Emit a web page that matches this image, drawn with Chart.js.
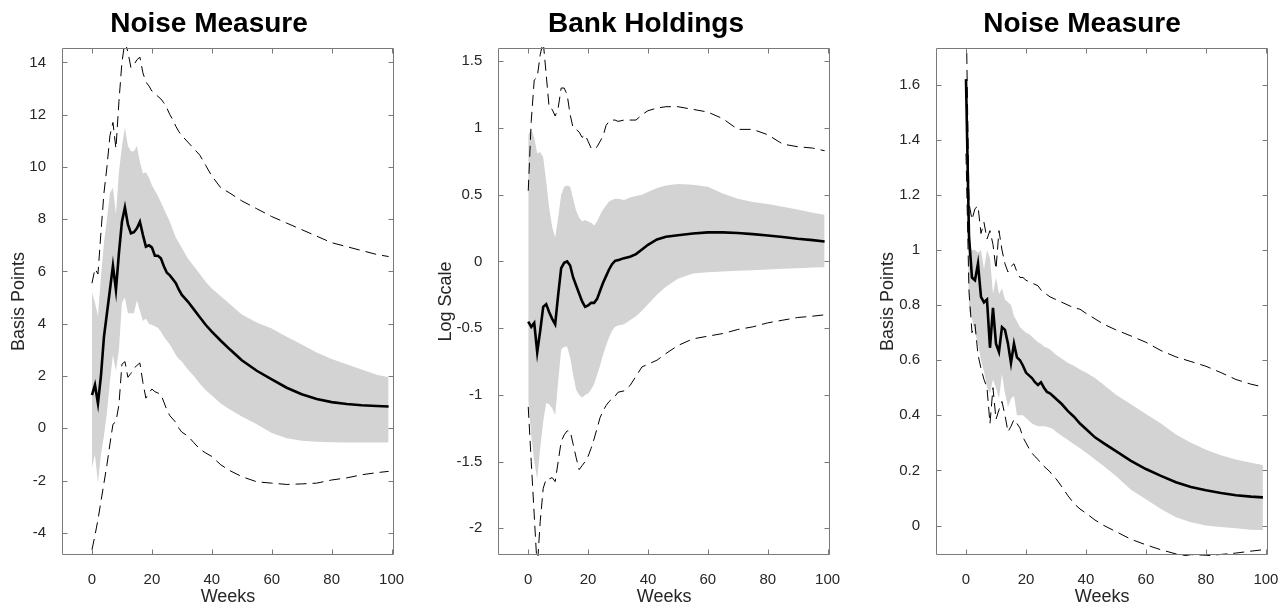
<!DOCTYPE html>
<html lang="en">
<head>
  <meta charset="UTF-8">
  <title>Noise Measure / Bank Holdings</title>
  <script src="https://cdn.jsdelivr.net/npm/chart.js"></script>
  <style>
    body {
      margin: 0;
      background: #fff;
      overflow: hidden;
    }

    .panel {
      position: absolute;
      top: 0;
    }
  </style>
</head>
<body>
  <canvas id="c1" class="panel" width="418" height="611" style="left:0px"></canvas>
  <canvas id="c2" class="panel" width="438" height="611" style="left:427px"></canvas>
  <canvas id="c3" class="panel" width="426" height="611" style="left:869px"></canvas>

  <script>
    // x positions (weeks) shared by every series
    const weeks = [0, 1, 2, 3, 4, 5, 6, 7, 8, 9, 10, 11, 12, 13, 14, 15, 16, 17, 18, 19, 20,
      21, 22, 23, 24, 25, 26, 27, 28, 29, 30, 32, 34, 36, 38, 40,
      43, 46, 50, 55, 60, 65, 70, 75, 80, 85, 90, 95, 99];
    const xTicks = [0, 20, 40, 60, 80, 100];

    // panel 1 - Noise Measure (basis points)
    const noiseMedian = [1.27, 1.66, 0.95, 2.0, 3.5, 4.4, 5.3, 6.22, 5.29, 6.7, 7.9, 8.45, 7.8, 7.46, 7.5, 7.65, 7.9, 7.4, 6.95, 7.0, 6.92,
      6.6, 6.6, 6.5, 6.2, 5.95, 5.85, 5.7, 5.55, 5.3, 5.1, 4.85, 4.55, 4.25, 3.95, 3.7,
      3.35, 3.02, 2.6, 2.2, 1.87, 1.55, 1.3, 1.12, 1.0, 0.93, 0.88, 0.85, 0.83];
    const noiseBandHi = [5.2, 4.8, 4.3, 5.8, 7.1, 8.0, 9.0, 9.2, 8.2, 9.8, 10.8, 11.5, 10.8, 10.6, 10.6, 10.8, 10.2, 9.75, 9.8, 9.6, 9.3,
      9.1, 8.9, 8.65, 8.4, 8.15, 7.9, 7.6, 7.3, 7.1, 6.9, 6.5, 6.2, 5.9, 5.6, 5.35,
      5.05, 4.75, 4.35, 4.05, 3.82, 3.5, 3.2, 2.9, 2.65, 2.45, 2.25, 2.05, 1.95];
    const noiseBandLo = [-1.5, -1.0, -2.1, -1.0, -0.3, 0.6, 1.8, 2.8, 2.2, 3.0, 4.8, 5.0, 4.4, 4.4, 4.4, 4.9, 4.5, 4.1, 4.2, 4.0, 3.95,
      3.9, 3.85, 3.7, 3.5, 3.35, 3.2, 3.0, 2.8, 2.65, 2.55, 2.25, 2.0, 1.7, 1.45, 1.25,
      0.95, 0.72, 0.45, 0.15, -0.18, -0.38, -0.48, -0.52, -0.54, -0.55, -0.55, -0.55, -0.55];
    const noiseOuterHi = [5.55, 6.1, 5.9, 7.5, 9.0, 10.0, 11.2, 11.7, 10.7, 12.5, 14.0, 14.8, 14.4, 13.8, 13.9, 14.1, 14.2, 13.6, 13.25, 13.1, 12.9,
      12.8, 12.7, 12.6, 12.45, 12.25, 12.0, 11.8, 11.55, 11.35, 11.2, 10.95, 10.7, 10.45, 10.05, 9.65,
      9.2, 9.0, 8.7, 8.4, 8.1, 7.85, 7.6, 7.35, 7.1, 6.95, 6.8, 6.65, 6.57];
    const noiseOuterLo = [-4.65, -4.1, -3.5, -2.8, -2.1, -1.4, -0.6, 0.15, 0.25, 0.9, 2.45, 2.55, 1.95, 2.1, 2.3, 2.4, 2.5, 1.75, 1.15, 1.35, 1.5,
      1.4, 1.35, 1.3, 1.0, 0.7, 0.48, 0.35, 0.22, 0.0, -0.15, -0.3, -0.55, -0.8, -0.95, -1.08,
      -1.4, -1.62, -1.85, -2.05, -2.1, -2.15, -2.13, -2.1, -1.98, -1.9, -1.78, -1.7, -1.65];
    const noiseYTicks = [-4, -2, 0, 2, 4, 6, 8, 10, 12, 14];

    // panel 2 - Bank Holdings (log scale)
    const bankMedian = [-0.45, -0.49, -0.46, -0.68, -0.52, -0.34, -0.32, -0.38, -0.43, -0.47, -0.25, -0.05, -0.01, 0.0, -0.03, -0.12, -0.18, -0.24, -0.3, -0.34, -0.33,
      -0.31, -0.31, -0.28, -0.22, -0.16, -0.11, -0.06, -0.02, 0.005, 0.01, 0.025, 0.035, 0.055, 0.09, 0.125,
      0.165, 0.185, 0.197, 0.21, 0.218, 0.218, 0.213, 0.205, 0.195, 0.183, 0.17, 0.16, 0.15];
    const bankBandHi = [0.95, 0.99, 0.93, 0.81, 0.82, 0.78, 0.6, 0.4, 0.26, 0.18, 0.33, 0.5, 0.56, 0.57, 0.56, 0.47, 0.38, 0.33, 0.3, 0.31, 0.3,
      0.29, 0.27, 0.3, 0.35, 0.39, 0.42, 0.45, 0.46, 0.47, 0.47, 0.46, 0.48, 0.49, 0.5, 0.52,
      0.55, 0.57, 0.58, 0.575, 0.56, 0.51, 0.47, 0.445, 0.43, 0.41, 0.39, 0.365, 0.35];
    const bankBandLo = [-1.04, -1.3, -1.5, -1.63, -1.4, -1.2, -1.06, -1.07, -1.1, -1.15, -0.9, -0.66, -0.64, -0.64, -0.72, -0.85, -0.96, -1.0, -1.02, -1.0, -0.99,
      -0.96, -0.92, -0.85, -0.78, -0.7, -0.63, -0.57, -0.52, -0.49, -0.48, -0.47, -0.44, -0.41, -0.37, -0.32,
      -0.25, -0.19, -0.13, -0.09, -0.08, -0.075, -0.07, -0.065, -0.06, -0.055, -0.05, -0.045, -0.043];
    const bankOuterHi = [0.53, 1.05, 1.36, 1.38, 1.55, 1.65, 1.4, 1.15, 1.14, 1.09, 1.15, 1.3, 1.3, 1.25, 1.1, 1.0, 0.99, 0.97, 0.93, 0.95, 0.9,
      0.85, 0.84, 0.86, 0.9, 0.94, 1.02, 1.05, 1.06, 1.06, 1.05, 1.06, 1.06, 1.06, 1.1, 1.13,
      1.15, 1.16, 1.16, 1.14, 1.12, 1.07, 0.99, 0.99, 0.95, 0.88, 0.86, 0.85, 0.83];
    const bankOuterLo = [-1.09, -1.5, -1.9, -2.3, -1.95, -1.7, -1.63, -1.63, -1.62, -1.65, -1.5, -1.35, -1.3, -1.27, -1.27, -1.37, -1.47, -1.56, -1.53, -1.5, -1.46,
      -1.4, -1.33, -1.25, -1.17, -1.12, -1.08, -1.05, -1.03, -1.01, -0.98, -0.97, -0.93, -0.86, -0.79, -0.77,
      -0.74, -0.69, -0.63, -0.58, -0.56, -0.54, -0.51, -0.49, -0.46, -0.44, -0.42, -0.41, -0.4];
    const bankYTicks = [-2, -1.5, -1, -0.5, 0, 0.5, 1, 1.5];

    // panel 3 - Noise Measure (basis points)
    const noise2Median = [1.62, 1.05, 0.9, 0.89, 0.95, 0.83, 0.81, 0.82, 0.645, 0.79, 0.66, 0.63, 0.72, 0.71, 0.66, 0.59, 0.66, 0.61, 0.6, 0.58, 0.555,
      0.545, 0.535, 0.52, 0.51, 0.52, 0.5, 0.485, 0.48, 0.47, 0.46, 0.44, 0.415, 0.395, 0.37, 0.35,
      0.32, 0.298, 0.27, 0.235, 0.205, 0.18, 0.157, 0.14, 0.128, 0.118, 0.11, 0.105, 0.102];
    const noise2BandHi = [1.65, 1.02, 1.0, 1.0, 0.99, 1.0, 0.93, 1.0, 0.97, 0.84, 0.9, 0.84, 0.86, 0.82, 0.81, 0.8, 0.76, 0.74, 0.72, 0.71, 0.7,
      0.695, 0.685, 0.675, 0.665, 0.66, 0.65, 0.645, 0.64, 0.63, 0.62, 0.605, 0.59, 0.58, 0.566, 0.555,
      0.535, 0.51, 0.475, 0.44, 0.405, 0.37, 0.33, 0.3, 0.275, 0.255, 0.24, 0.228, 0.22];
    const noise2BandLo = [1.55, 0.78, 0.75, 0.7, 0.66, 0.6, 0.56, 0.5, 0.48, 0.53, 0.5, 0.46, 0.55, 0.48, 0.43, 0.46, 0.47, 0.4, 0.4, 0.4, 0.39,
      0.38, 0.37, 0.365, 0.36, 0.36, 0.36, 0.358, 0.355, 0.35, 0.34, 0.325, 0.31, 0.295, 0.28, 0.265,
      0.24, 0.215, 0.18, 0.13, 0.095, 0.06, 0.03, 0.012, 0.0, -0.005, -0.01, -0.015, -0.016];
    const noise2OuterHi = [1.9, 1.17, 1.11, 1.15, 1.16, 1.06, 1.1, 1.04, 1.07, 1.02, 0.93, 1.07, 1.0, 0.95, 0.92, 0.94, 0.95, 0.92, 0.9, 0.9, 0.89,
      0.885, 0.88, 0.875, 0.87, 0.855, 0.845, 0.838, 0.83, 0.825, 0.82, 0.81, 0.8, 0.79, 0.785, 0.77,
      0.75, 0.73, 0.71, 0.688, 0.665, 0.635, 0.612, 0.595, 0.578, 0.555, 0.53, 0.513, 0.503];
    const noise2OuterLo = [1.35, 0.85, 0.7, 0.73, 0.62, 0.57, 0.53, 0.5, 0.37, 0.5, 0.385, 0.42, 0.45, 0.4, 0.34, 0.36, 0.385, 0.37, 0.354, 0.32, 0.3,
      0.28, 0.263, 0.25, 0.24, 0.225, 0.215, 0.205, 0.195, 0.18, 0.17, 0.14, 0.108, 0.08, 0.06, 0.045,
      0.02, 0.0, -0.022, -0.05, -0.07, -0.088, -0.103, -0.112, -0.11, -0.105, -0.1, -0.093, -0.088];
    const noise2YTicks = [0, 0.2, 0.4, 0.6, 0.8, 1, 1.2, 1.4, 1.6];

    const FONT = 'Arial, "Liberation Sans", Helvetica, sans-serif';
    const TEXT = '#262626';
    const BAND = '#d3d3d3';

    // box around the plot with inward ticks on all four sides
    const frame = {
      id: 'frame',
      afterDatasetsDraw(chart) {
        const { ctx, chartArea: a, scales } = chart;
        const l = Math.round(a.left) + 0.5, r = Math.round(a.right) - 0.5;
        const t = Math.round(a.top) + 0.5, b = Math.round(a.bottom) - 0.5;
        ctx.save();
        ctx.strokeStyle = '#7a7a7a';
        ctx.lineWidth = 1;
        ctx.beginPath();
        scales.x.ticks.forEach(tk => {
          const px = Math.round(scales.x.getPixelForValue(tk.value)) + 0.5;
          ctx.moveTo(px, b); ctx.lineTo(px, b - 5);
          ctx.moveTo(px, t); ctx.lineTo(px, t + 5);
        });
        scales.y.ticks.forEach(tk => {
          const py = Math.round(scales.y.getPixelForValue(tk.value)) + 0.5;
          ctx.moveTo(l, py); ctx.lineTo(l + 5, py);
          ctx.moveTo(r, py); ctx.lineTo(r - 5, py);
        });
        ctx.rect(l, t, r - l, b - t);
        ctx.stroke();
        ctx.restore();
      }
    };

    const pts = arr => weeks.map((w, i) => ({ x: w, y: arr[i] }));

    function makePanel(id, title, yTitle, yMin, yMax, yTicks, leftW, rightW, s) {
      const line = { pointRadius: 0, tension: 0, fill: false, clip: 1 };
      new Chart(document.getElementById(id), {
        type: 'line',
        data: {
          datasets: [
            { ...line, data: pts(s.median), borderColor: '#000', borderWidth: 2.6, order: 0 },
            { ...line, data: pts(s.outerHi), borderColor: '#000', borderWidth: 1, borderDash: [11, 6], order: 1 },
            { ...line, data: pts(s.outerLo), borderColor: '#000', borderWidth: 1, borderDash: [11, 6], order: 1 },
            { ...line, data: pts(s.bandHi), borderWidth: 0, borderColor: BAND, backgroundColor: BAND, fill: '+1', order: 2 },
            { ...line, data: pts(s.bandLo), borderWidth: 0, borderColor: BAND, order: 2 }
          ]
        },
        options: {
          responsive: false,
          animation: false,
          devicePixelRatio: 1,
          layout: { padding: 0 },
          plugins: {
            legend: { display: false },
            tooltip: { enabled: false },
            title: {
              display: true,
              text: title,
              color: '#000',
              font: { family: FONT, size: 28, weight: 'bold' },
              padding: { top: 7, bottom: 7.4 }
            }
          },
          scales: {
            x: {
              type: 'linear',
              min: -10,
              max: 100.8,
              afterBuildTicks: sc => { sc.ticks = xTicks.map(v => ({ value: v })); },
              afterFit: sc => { sc.height = 56; },
              grid: { display: false },
              border: { display: false },
              ticks: { color: TEXT, font: { family: FONT, size: 15 }, padding: 8, maxRotation: 0, autoSkip: false },
              title: { display: true, text: 'Weeks', color: TEXT, font: { family: FONT, size: 18 }, padding: { top: 0, bottom: 3 } }
            },
            y: {
              type: 'linear',
              position: 'left',
              min: yMin,
              max: yMax,
              afterBuildTicks: sc => { sc.ticks = yTicks.map(v => ({ value: v })); },
              afterFit: sc => { sc.width = leftW; },
              grid: { display: false },
              border: { display: false },
              ticks: { color: TEXT, font: { family: FONT, size: 15 }, padding: 8, autoSkip: false, callback: v => String(v) },
              title: { display: true, text: yTitle, color: TEXT, font: { family: FONT, size: 18 }, padding: { top: 8, bottom: 0 } }
            },
            yR: {
              type: 'linear',
              position: 'right',
              min: yMin,
              max: yMax,
              afterFit: sc => { sc.width = rightW; },
              grid: { display: false },
              border: { display: false },
              ticks: { display: false }
            }
          }
        },
        plugins: [frame]
      });
    }

    makePanel('c1', 'Noise Measure', 'Basis Points', -4.85, 14.55, noiseYTicks, 62, 24, {
      median: noiseMedian, bandHi: noiseBandHi, bandLo: noiseBandLo, outerHi: noiseOuterHi, outerLo: noiseOuterLo
    });
    makePanel('c2', 'Bank Holdings', 'Log Scale', -2.2, 1.6, bankYTicks, 71.3, 35, {
      median: bankMedian, bandHi: bankBandHi, bandLo: bankBandLo, outerHi: bankOuterHi, outerLo: bankOuterLo
    });
    makePanel('c3', 'Noise Measure', 'Basis Points', -0.107, 1.733, noise2YTicks, 67, 26.7, {
      median: noise2Median, bandHi: noise2BandHi, bandLo: noise2BandLo, outerHi: noise2OuterHi, outerLo: noise2OuterLo
    });
  </script>
</body>
</html>
